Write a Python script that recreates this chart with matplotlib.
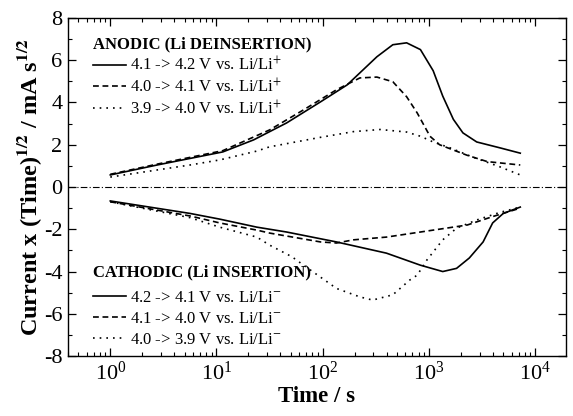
import numpy as np
import matplotlib
matplotlib.use("Agg")
import matplotlib.pyplot as plt
from matplotlib.ticker import LogLocator, MultipleLocator, NullFormatter

plt.rcParams['font.family'] = ['Liberation Serif', 'DejaVu Serif']
plt.rcParams['mathtext.fontset'] = 'stix'

# ---- data (log10 of time in s, and Current x Time^1/2 in mA s^1/2) ----
a1_logt = [0, 0.44, 1.06, 1.35, 1.66, 1.98, 2.23, 2.35, 2.51, 2.66, 2.79, 2.92,
           3.04, 3.13, 3.23, 3.32, 3.45, 3.67, 3.86]
a1_val = [0.57, 1.04, 1.66, 2.23, 3.03, 4.03, 4.83, 5.4, 6.16, 6.73, 6.82, 6.5,
          5.5, 4.3, 3.2, 2.56, 2.13, 1.85, 1.6]

a2_logt = [0, 0.44, 1.06, 1.5, 1.82, 2.13, 2.35, 2.51, 2.66, 2.79, 2.89,
           3.01, 3.1, 3.36, 3.55, 3.86]
a2_val = [0.6, 1.08, 1.72, 2.7, 3.65, 4.6, 5.16, 5.2, 4.98, 4.27, 3.5,
          2.4, 2.0, 1.5, 1.2, 1.04]

a3_logt = [0, 0.75, 1.03, 1.38, 1.5, 1.98, 2.29, 2.54, 2.79, 2.92, 3.04, 3.2,
           3.41, 3.67, 3.86]
a3_val = [0.47, 1.04, 1.28, 1.7, 1.9, 2.35, 2.62, 2.72, 2.6, 2.4, 2.13, 1.85,
          1.42, 0.95, 0.57]

c1_logt = [0, 0.75, 1.03, 1.38, 1.66, 2.13, 2.6, 2.92, 3.13, 3.26, 3.38, 3.51,
           3.6, 3.7, 3.86]
c1_val = [-0.66, -1.25, -1.52, -1.9, -2.13, -2.6, -3.13, -3.7, -4.0, -3.85, -3.36,
          -2.6, -1.7, -1.25, -0.95]

c2_logt = [0, 0.75, 1.03, 1.38, 1.5, 1.98, 2.13, 2.29, 2.6, 2.92, 3.04, 3.36,
           3.6, 3.86]
c2_val = [-0.7, -1.37, -1.7, -2.04, -2.18, -2.6, -2.65, -2.5, -2.37, -2.13, -2.04,
          -1.8, -1.4, -1.0]

c3_logt = [0, 0.75, 1.03, 1.38, 1.5, 1.71, 1.82, 2.13, 2.35, 2.47, 2.66, 2.82,
           2.89, 2.98, 3.13, 3.26, 3.45, 3.67, 3.86]
c3_val = [-0.7, -1.45, -1.9, -2.37, -2.75, -3.3, -3.7, -4.8, -5.2, -5.35, -5.1,
          -4.4, -4.17, -3.46, -2.5, -1.95, -1.56, -1.2, -0.95]

anodic_labels = ["4.1 -> 4.2 V vs. Li/Li$^{+}$",
                 "4.0 -> 4.1 V vs. Li/Li$^{+}$",
                 "3.9 -> 4.0 V vs. Li/Li$^{+}$"]
cathodic_labels = ["4.2 -> 4.1 V vs. Li/Li$^{-}$",
                   "4.1 -> 4.0 V vs. Li/Li$^{-}$",
                   "4.0 -> 3.9 V vs. Li/Li$^{-}$"]

fig = plt.figure(figsize=(5.73, 4.16), dpi=100)
ax = fig.add_axes([0.1187, 0.144, 0.869, 0.813])

styles = [dict(ls='-', lw=1.2),
          dict(ls=(0, (3.5, 2.2)), lw=1.2),
          dict(ls=(0, (1, 3.0)), lw=1.2)]

a_lines = []
for (lt, v), st, lab in zip([(a1_logt, a1_val), (a2_logt, a2_val), (a3_logt, a3_val)],
                            styles, anodic_labels):
    l, = ax.plot(10 ** np.array(lt), v, color='black', label=lab, **st)
    a_lines.append(l)
c_lines = []
for (lt, v), st, lab in zip([(c1_logt, c1_val), (c2_logt, c2_val), (c3_logt, c3_val)],
                            styles, cathodic_labels):
    l, = ax.plot(10 ** np.array(lt), v, color='black', label=lab, **st)
    c_lines.append(l)

ax.axhline(0, color='black', lw=0.8, ls=(0, (6, 2, 1, 2)))

ax.set_xscale('log')
ax.set_xlim(0.4, 1.95e4)
ax.set_ylim(-8, 8)
ax.xaxis.set_major_locator(LogLocator(base=10, numticks=10))
ax.xaxis.set_minor_locator(LogLocator(base=10, subs=np.arange(2, 10), numticks=20))
ax.xaxis.set_minor_formatter(NullFormatter())
ax.yaxis.set_major_locator(MultipleLocator(2))
ax.yaxis.set_minor_locator(MultipleLocator(1))
ax.tick_params(which='both', direction='in', top=True, right=True, labelsize=16)
ax.tick_params(which='major', length=6, width=0.9, pad=4)
ax.tick_params(which='minor', length=3, width=0.8)
ax.set_yticks(ax.get_yticks())
ax.set_yticklabels([str(int(t)) for t in ax.get_yticks()])
ax.set_ylim(-8, 8)
for s in ax.spines.values():
    s.set_linewidth(1.0)

ax.set_xlabel("Time / s", fontsize=16.5, fontweight='bold', labelpad=1)
ax.set_ylabel("Current x (Time)$^{\\mathbf{1/2}}$ / mA s$^{\\mathbf{1/2}}$",
              fontsize=17.5, fontweight='bold', labelpad=0)

leg1 = ax.legend(handles=a_lines, title="ANODIC (Li DEINSERTION)", loc='upper left',
                 bbox_to_anchor=(0.05, 0.945), frameon=False, fontsize=12,
                 title_fontproperties={'weight': 'bold', 'size': 12},
                 alignment='left', handlelength=2.0, handletextpad=0.25,
                 labelspacing=0.2, borderaxespad=0, borderpad=0)
ax.add_artist(leg1)
leg2 = ax.legend(handles=c_lines, title="CATHODIC (Li INSERTION)", loc='lower left',
                 bbox_to_anchor=(0.05, 0.025), frameon=False, fontsize=12,
                 title_fontproperties={'weight': 'bold', 'size': 12},
                 alignment='left', handlelength=2.0, handletextpad=0.25,
                 labelspacing=0.28, borderaxespad=0, borderpad=0)
leg2._legend_box.sep = 7

fig.savefig("out.png", dpi=100)
